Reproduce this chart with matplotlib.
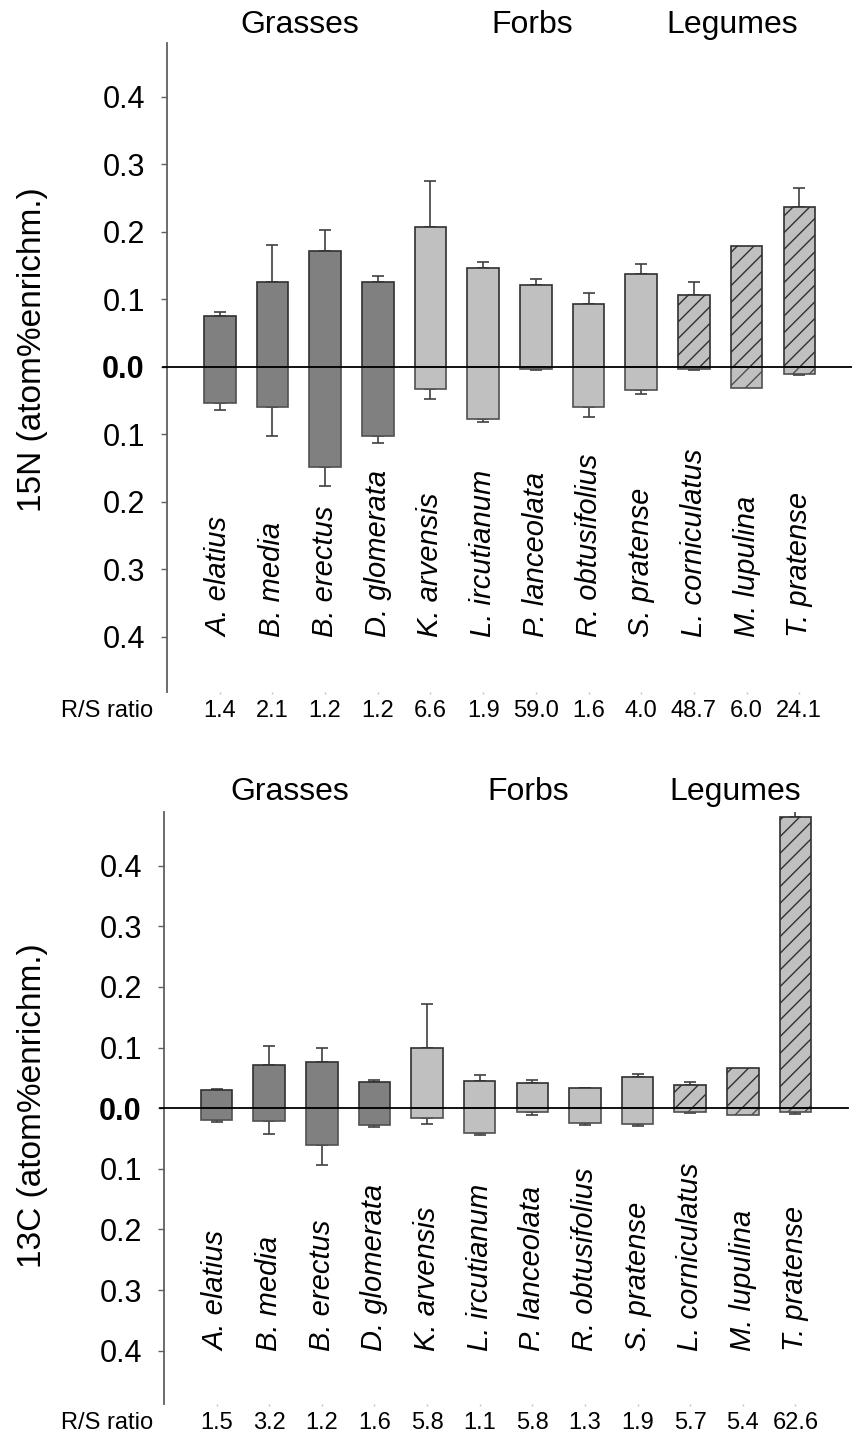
import numpy as np
import matplotlib
matplotlib.use('Agg')
import matplotlib.pyplot as plt
from matplotlib.ticker import FixedLocator, FixedFormatter

plt.rcParams['font.family'] = ['Liberation Sans', 'DejaVu Sans']
plt.rcParams['hatch.color'] = '#202020'
plt.rcParams['hatch.linewidth'] = 1.0

species = ['A. elatius', 'B. media', 'B. erectus', 'D. glomerata', 'K. arvensis',
           'L. ircutianum', 'P. lanceolata', 'R. obtusifolius', 'S. pratense',
           'L. corniculatus', 'M. lupulina', 'T. pratense']
groups = ['grass'] * 4 + ['forb'] * 5 + ['legume'] * 3

# 15N enrichment: shoot (up) and root (down), with SE
n_shoot = [0.075, 0.125, 0.171, 0.125, 0.208, 0.147, 0.122, 0.093, 0.138, 0.107, 0.179, 0.237]
n_shoot_se = [0.007, 0.055, 0.032, 0.009, 0.067, 0.009, 0.008, 0.017, 0.015, 0.018, 0.0, 0.028]
n_root = [0.054, 0.060, 0.149, 0.103, 0.033, 0.078, 0.003, 0.059, 0.035, 0.003, 0.031, 0.011]
n_root_se = [0.010, 0.043, 0.027, 0.010, 0.014, 0.004, 0.001, 0.015, 0.006, 0.002, 0.0, 0.001]
n_rs = ['1.4', '2.1', '1.2', '1.2', '6.6', '1.9', '59.0', '1.6', '4.0', '48.7', '6.0', '24.1']

# 13C enrichment
c_shoot = [0.030, 0.071, 0.076, 0.043, 0.100, 0.045, 0.041, 0.033, 0.051, 0.038, 0.066, 0.480]
c_shoot_se = [0.001, 0.032, 0.023, 0.004, 0.072, 0.009, 0.006, 0.001, 0.005, 0.005, 0.0, 0.030]
c_root = [0.019, 0.022, 0.061, 0.028, 0.017, 0.041, 0.007, 0.025, 0.026, 0.007, 0.012, 0.007]
c_root_se = [0.004, 0.020, 0.032, 0.003, 0.009, 0.004, 0.004, 0.003, 0.003, 0.001, 0.0, 0.002]
c_rs = ['1.5', '3.2', '1.2', '1.6', '5.8', '1.1', '5.8', '1.3', '1.9', '5.7', '5.4', '62.6']

yticks = [-0.4, -0.3, -0.2, -0.1, 0.0, 0.1, 0.2, 0.3, 0.4]
ytick_labels = ['0.4', '0.3', '0.2', '0.1', '0.0', '0.1', '0.2', '0.3', '0.4']

face = {'grass': '#808080', 'forb': '#c0c0c0', 'legume': '#c0c0c0'}
hatch = {'grass': None, 'forb': None, 'legume': '//'}

W, H = 852, 1439
fig = plt.figure(figsize=(W / 100, H / 100), dpi=100)


def px_rect(left, top, right, bottom):
    return [left / W, 1 - bottom / H, (right - left) / W, (bottom - top) / H]


def panel(rect, ylim, shoot, shoot_se, root, root_se, rs, ylabel, label_y,
          title_y, title_x, rs_y):
    ax = fig.add_axes(rect)
    x = np.arange(1, len(species) + 1)
    shoot = np.array(shoot)
    root = np.array(root)
    shoot_se = np.array(shoot_se)
    root_se = np.array(root_se)

    for i in range(len(species)):
        g = groups[i]
        ax.bar(x[i], shoot[i], width=0.6, color=face[g], edgecolor='#303030',
               linewidth=1.2, hatch=hatch[g], zorder=2)
        ax.bar(x[i], -root[i], width=0.6, color=face[g], edgecolor='#505050',
               linewidth=1.2, hatch=hatch[g], zorder=2)

    m = shoot_se > 0
    ax.errorbar(x[m], shoot[m], yerr=[np.zeros(m.sum()), shoot_se[m]], fmt='none',
                ecolor='#404040', elinewidth=1.2, capsize=4, capthick=1.2, zorder=1)
    m = root_se > 0
    ax.errorbar(x[m], -root[m], yerr=[root_se[m], np.zeros(m.sum())], fmt='none',
                ecolor='#404040', elinewidth=1.2, capsize=4, capthick=1.2, zorder=1)

    ax.axhline(0, xmin=-0.006, xmax=1, color='black', linewidth=1.3, zorder=3,
               clip_on=False)

    ax.set_xlim(0, 13)
    ax.set_ylim(*ylim)
    for s in ['top', 'right', 'bottom']:
        ax.spines[s].set_visible(False)
    ax.spines['left'].set_color('#606060')
    ax.spines['left'].set_linewidth(1.3)

    ax.yaxis.set_major_locator(FixedLocator(yticks))
    ax.yaxis.set_major_formatter(FixedFormatter(ytick_labels))
    ax.tick_params(axis='y', direction='out', length=4, width=1, color='#606060',
                   labelsize=22, pad=12)
    for lab in ax.get_yticklabels():
        if lab.get_text() == '0.0':
            lab.set_fontweight('bold')
    ax.set_xticks(x)
    ax.set_xticklabels([])
    ax.tick_params(axis='x', direction='out', length=1.5, width=1, color='#c0c0c0')

    for i, name in enumerate(species):
        ax.text(x[i], -0.40, name, rotation=90, ha='center', va='bottom',
                fontsize=21, style='italic')

    trans = ax.get_xaxis_transform()
    for i, r in enumerate(rs):
        ax.text(x[i], 0, r, transform=ax.transData, alpha=0)
    for i, r in enumerate(rs):
        fig.text((rect[0] * W + (x[i] / 13) * rect[2] * W) / W, 1 - rs_y / H, r,
                 ha='center', va='center', fontsize=17)
    fig.text(153 / W, 1 - rs_y / H, 'R/S ratio', ha='right', va='center', fontsize=17)

    for t, tx in zip(['Grasses', 'Forbs', 'Legumes'], title_x):
        fig.text(tx / W, 1 - title_y / H, t, ha='center', va='center', fontsize=23)

    fig.text(33 / W, 1 - label_y / H, ylabel, rotation=90, ha='center',
             va='center', fontsize=24)
    return ax


panel(px_rect(167, 43, 852, 692), (-0.482, 0.48), n_shoot, n_shoot_se, n_root,
      n_root_se, n_rs, '15N (atom%enrichm.)', 350, 25, [300, 532, 732], 711)
panel(px_rect(164, 811.7, 848, 1404), (-0.488, 0.489), c_shoot, c_shoot_se, c_root,
      c_root_se, c_rs, '13C (atom%enrichm.)', 1106, 792, [290, 528, 735], 1423)

fig.savefig('out.png', dpi=100)
